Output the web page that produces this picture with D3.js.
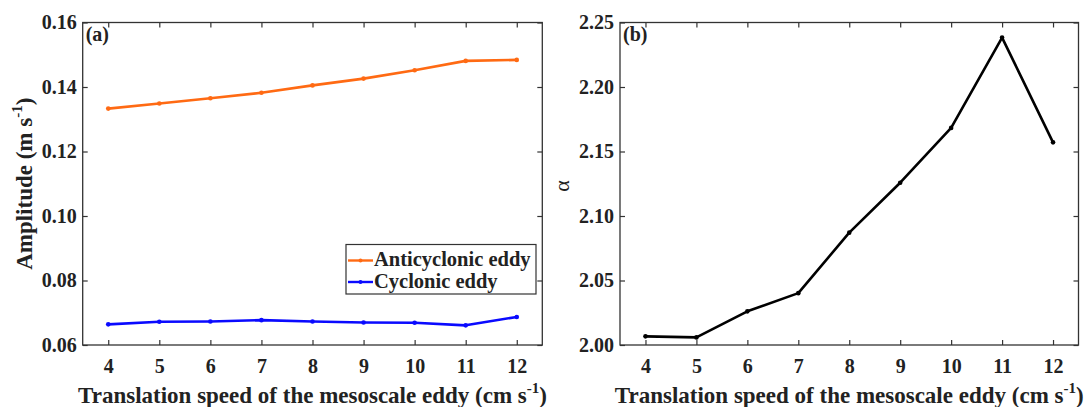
<!DOCTYPE html>
<html>
<head>
<meta charset="utf-8">
<script src="https://cdn.jsdelivr.net/npm/d3@7/dist/d3.min.js"></script>
<style>
  html, body { margin: 0; padding: 0; background: #fff; }
  svg { display: block; }
</style>
</head>
<body>
<svg id="fig" width="1087" height="407"></svg>
<script>
// Translation speed of the eddies (cm s^-1)
const speeds = [4, 5, 6, 7, 8, 9, 10, 11, 12];
// Panel (a): amplitude (m s^-1)
const anticyclonicAmp = [0.1333, 0.1349, 0.1365, 0.1382, 0.1405, 0.1426, 0.1452, 0.1481, 0.1484];
const cyclonicAmp     = [0.0664, 0.0672, 0.0673, 0.0677, 0.0673, 0.0670, 0.0669, 0.0661, 0.0687];
// Panel (b): alpha
const alphaValues     = [2.0067, 2.0059, 2.0261, 2.0402, 2.0871, 2.1258, 2.1683, 2.2383, 2.1571];
// Tick values
const xTicks = [4, 5, 6, 7, 8, 9, 10, 11, 12];
const ampTicks = [0.06, 0.08, 0.10, 0.12, 0.14, 0.16];
const alphaTicks = [2.00, 2.05, 2.10, 2.15, 2.20, 2.25];
const seriesNames = ["Anticyclonic eddy", "Cyclonic eddy"];

const FONT = "Liberation Serif";
const svg = d3.select("#fig");
const axisColor = "#333";
const textColor = "#222";
const plotTop = 22.5, plotBottom = 345;

function label(sel, size, bold = true) {
  return sel.attr("font-family", FONT)
    .attr("font-weight", bold ? "bold" : "normal")
    .attr("font-size", size)
    .attr("fill", textColor);
}

function panel(x0, x1, yDomain, yTicks, tag) {
  const g = svg.append("g");
  const x = d3.scaleLinear().domain([3.5, 12.5]).range([x0, x1]);
  const y = d3.scaleLinear().domain(yDomain).range([plotBottom, plotTop]);

  const styleAxis = sel => {
    sel.attr("font-family", FONT);
    sel.select(".domain").remove();
    sel.selectAll(".tick line").attr("stroke", axisColor).attr("stroke-width", 1.2);
    sel.selectAll(".tick text").call(label, 20);
  };

  // bottom axis with labels, inward ticks
  g.append("g").attr("transform", `translate(0,${plotBottom})`)
    .call(d3.axisBottom(x).tickValues(xTicks).tickSize(-5).tickPadding(14).tickFormat(d3.format("d")))
    .call(styleAxis);
  // top mirrored ticks
  g.append("g").attr("transform", `translate(0,${plotTop})`)
    .call(d3.axisTop(x).tickValues(xTicks).tickSize(-5).tickFormat(""))
    .call(styleAxis);
  // left axis with labels
  g.append("g").attr("transform", `translate(${x0},0)`)
    .call(d3.axisLeft(y).tickValues(yTicks).tickSize(-5).tickPadding(6).tickFormat(d3.format(".2f")))
    .call(styleAxis);
  // right mirrored ticks
  g.append("g").attr("transform", `translate(${x1},0)`)
    .call(d3.axisRight(y).tickValues(yTicks).tickSize(-5).tickFormat(""))
    .call(styleAxis);

  // axes box
  g.append("rect")
    .attr("x", x0).attr("y", plotTop)
    .attr("width", x1 - x0).attr("height", plotBottom - plotTop)
    .attr("fill", "none").attr("stroke", axisColor).attr("stroke-width", 1.3);

  // panel tag
  g.append("text")
    .attr("x", x0 + 3).attr("y", plotTop + 18)
    .call(label, 20)
    .text(tag);

  // x axis title with superscript
  const xt = g.append("text")
    .attr("x", (x0 + x1) / 2).attr("y", 403)
    .attr("text-anchor", "middle")
    .call(label, 23);
  xt.append("tspan").text("Translation speed of the mesoscale eddy (cm s");
  xt.append("tspan").attr("dy", -10).attr("font-size", 15).text("-1");
  xt.append("tspan").attr("dy", 10).text(")");

  return { g, x, y };
}

function drawSeries(p, values, color) {
  const line = d3.line().x((d, i) => p.x(speeds[i])).y(d => p.y(d));
  p.g.append("path").datum(values)
    .attr("d", line)
    .attr("fill", "none").attr("stroke", color)
    .attr("stroke-width", 2.6).attr("stroke-linejoin", "round");
  p.g.selectAll(null).data(values).enter().append("circle")
    .attr("cx", (d, i) => p.x(speeds[i]))
    .attr("cy", d => p.y(d))
    .attr("r", 2.3).attr("fill", color);
}

const orange = "#ff6a13";
const blue = "#0a0aff";

// Panel (a)
const pa = panel(82.7, 542.3, [0.06, 0.16], ampTicks, "(a)");
drawSeries(pa, anticyclonicAmp, orange);
drawSeries(pa, cyclonicAmp, blue);

// y title (a)
const yt = svg.append("text")
  .attr("transform", `translate(32,${(plotTop + plotBottom) / 2}) rotate(-90)`)
  .attr("text-anchor", "middle")
  .call(label, 23);
yt.append("tspan").text("Amplitude (m s");
yt.append("tspan").attr("dy", -10).attr("font-size", 15).text("-1");
yt.append("tspan").attr("dy", 10).text(")");

// Legend
const lg = svg.append("g");
lg.append("rect")
  .attr("x", 346).attr("y", 244.5).attr("width", 190).attr("height", 49.5)
  .attr("fill", "#fff").attr("stroke", axisColor).attr("stroke-width", 1.2);
[orange, blue].forEach((c, i) => {
  const yy = 260.5 + i * 21.5;
  lg.append("line").attr("x1", 348).attr("x2", 373).attr("y1", yy).attr("y2", yy)
    .attr("stroke", c).attr("stroke-width", 2.4);
  lg.append("circle").attr("cx", 360.5).attr("cy", yy).attr("r", 2).attr("fill", c);
  lg.append("text").attr("x", 374).attr("y", yy + 5.5)
    .call(label, 20.5)
    .text(seriesNames[i]);
});

// Panel (b)
const pb = panel(620, 1078.5, [2.00, 2.25], alphaTicks, "(b)");
drawSeries(pb, alphaValues, "#000");

svg.append("text")
  .attr("transform", `translate(569,186) rotate(-90)`)
  .attr("text-anchor", "middle")
  .call(label, 22, false)
  .text("α");
</script>
</body>
</html>
